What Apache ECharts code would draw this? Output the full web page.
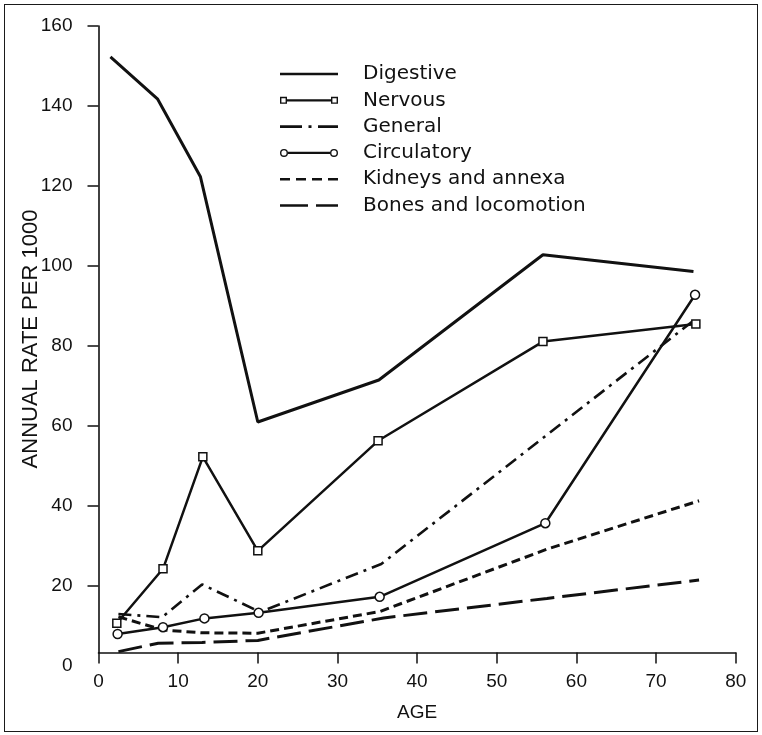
<!DOCTYPE html>
<html>
<head>
<meta charset="utf-8">
<script src="https://cdn.jsdelivr.net/npm/echarts@6/dist/echarts.min.js"></script>
<style>
html,body{margin:0;padding:0;background:#fff;}
#wrap{position:relative;width:762px;height:735px;}
#chart{position:absolute;left:0;top:0;width:762px;height:735px;}
#frame{position:absolute;left:4px;top:4px;width:754px;height:728px;box-sizing:border-box;border:1.5px solid #1a1a1a;pointer-events:none;}
</style>
</head>
<body>
<div id="wrap"><div id="chart"></div><div id="frame"></div></div>
<script>
// ---- data ----
const seriesNames = ['Digestive', 'Nervous', 'General', 'Circulatory', 'Kidneys and annexa', 'Bones and locomotion'];
const xTicks = [0, 10, 20, 30, 40, 50, 60, 70, 80];
const yTicks = [0, 20, 40, 60, 80, 100, 120, 140, 160];

const digestiveAge  = [1.5, 7.4, 12.8, 20.0, 35.2, 55.8, 74.7];
const digestiveRate = [152.3, 141.8, 122.3, 61.0, 71.5, 102.8, 98.6];

const nervousAge  = [2.3, 8.1, 13.1, 20.0, 35.1, 55.8, 75.0];
const nervousRate = [10.7, 24.3, 52.3, 28.8, 56.3, 81.1, 85.5];

const generalAge  = [2.5, 8.0, 13.0, 20.3, 35.5, 56.0, 74.8];
const generalRate = [13.0, 12.2, 20.4, 13.5, 25.5, 57.3, 86.5];

const circulatoryAge  = [2.4, 8.1, 13.3, 20.1, 35.3, 56.1, 74.9];
const circulatoryRate = [8.0, 9.7, 11.9, 13.3, 17.3, 35.7, 92.8];

const kidneysAge  = [2.5, 8.1, 13.0, 20.0, 35.3, 56.3, 75.4];
const kidneysRate = [12.3, 9.0, 8.3, 8.2, 13.6, 29.2, 41.3];

const bonesAge  = [2.5, 7.5, 13.0, 20.0, 35.8, 56.3, 75.4];
const bonesRate = [3.6, 5.7, 5.9, 6.4, 12.0, 16.9, 21.5];

// ---- helpers ----
function pts(xs, ys) { return xs.map((x, i) => [x, ys[i]]); }
const INK = '#111';
const FONT = 'Liberation Sans';

// legend key paths (78 x 10 box; the drawn key occupies 0..58)
const ANCHOR = 'M0 0 M78 10 ';
function bar(x0, x1, h) { h = h || 1.3; return 'M' + x0 + ' ' + (5 - h) + ' L' + x1 + ' ' + (5 - h) + ' L' + x1 + ' ' + (5 + h) + ' L' + x0 + ' ' + (5 + h) + ' Z '; }
function sq(x0) { const s = 7, t = 1.4; return 'M' + x0 + ' 1.5 L' + (x0 + s) + ' 1.5 L' + (x0 + s) + ' 8.5 L' + x0 + ' 8.5 Z ' +
  'M' + (x0 + t) + ' ' + (1.5 + t) + ' L' + (x0 + t) + ' ' + (8.5 - t) + ' L' + (x0 + s - t) + ' ' + (8.5 - t) + ' L' + (x0 + s - t) + ' ' + (1.5 + t) + ' Z '; }
function ring(cx) { const r = 4, ri = 2.6; return 'M' + (cx - r) + ' 5 A' + r + ' ' + r + ' 0 1 1 ' + (cx + r) + ' 5 A' + r + ' ' + r + ' 0 1 1 ' + (cx - r) + ' 5 Z ' +
  'M' + (cx - ri) + ' 5 A' + ri + ' ' + ri + ' 0 1 0 ' + (cx + ri) + ' 5 A' + ri + ' ' + ri + ' 0 1 0 ' + (cx - ri) + ' 5 Z '; }
const icons = {
  'Digestive': ANCHOR + bar(0, 58),
  'Nervous': ANCHOR + sq(0) + bar(7, 51, 1.1) + sq(51),
  'General': ANCHOR + bar(0, 22) + bar(28.5, 31.5) + bar(38, 58),
  'Circulatory': ANCHOR + ring(4) + bar(8, 50, 1.1) + ring(54),
  'Kidneys and annexa': ANCHOR + bar(0, 10) + bar(16, 26) + bar(32, 42) + bar(48, 58),
  'Bones and locomotion': ANCHOR + bar(0, 28) + bar(36, 58)
};

const chart = echarts.init(document.getElementById('chart'), null, { renderer: 'canvas' });
const option = {
  animation: false,
  backgroundColor: 'transparent',
  textStyle: { fontFamily: FONT, color: INK },
  grid: [
    { left: 98.5, right: 26.3, top: 26, bottom: 69 },
    { left: 98.5, right: 26.3, top: 26, bottom: 82.5 }
  ],
  legend: {
    orient: 'vertical',
    left: 280,
    top: 64,
    padding: 0,
    itemWidth: 78,
    itemHeight: 10,
    itemGap: 6.3,
    selectedMode: false,
    itemStyle: { color: INK, borderColor: INK, borderWidth: 0 },
    textStyle: { fontFamily: 'DejaVu Sans', fontSize: 20, color: INK },
    data: seriesNames.map(n => ({ name: n, icon: 'path://' + icons[n] }))
  },
  xAxis: [
    { gridIndex: 0, type: 'value', min: xTicks[0], max: xTicks[xTicks.length - 1], interval: 10, show: false },
    {
      gridIndex: 1, type: 'value', min: xTicks[0], max: xTicks[xTicks.length - 1], interval: 10,
      name: 'AGE', nameLocation: 'middle', nameGap: 51, nameMoveOverlap: false,
      nameTextStyle: { fontFamily: FONT, fontSize: 19, color: INK },
      axisLine: { show: true, onZero: false, lineStyle: { color: INK, width: 1.6 } },
      axisTick: { show: true, inside: false, length: 11, lineStyle: { color: INK, width: 1.5 } },
      axisLabel: { fontFamily: FONT, fontSize: 19, color: INK, margin: 20 },
      splitLine: { show: false }
    }
  ],
  yAxis: [
    {
      gridIndex: 0, type: 'value', min: yTicks[0], max: yTicks[yTicks.length - 1], interval: 20,
      name: 'ANNUAL RATE PER 1000', nameLocation: 'middle', nameRotate: 90, nameGap: 57, nameMoveOverlap: false,
      nameTextStyle: { fontFamily: FONT, fontSize: 22, color: INK, padding: [0, 0, 0, 14] },
      axisLine: { show: false },
      axisTick: { show: true, length: 11, customValues: yTicks.slice(1), lineStyle: { color: INK, width: 1.5 } },
      axisLabel: { fontFamily: FONT, fontSize: 19, color: INK, margin: 26 },
      splitLine: { show: false }
    },
    {
      gridIndex: 1, type: 'value', min: 0, max: 1,
      axisLine: { show: true, onZero: false, lineStyle: { color: INK, width: 1.6 } },
      axisTick: { show: false }, axisLabel: { show: false }, splitLine: { show: false }
    }
  ],
  series: [
    { name: 'Digestive', type: 'line', xAxisIndex: 0, yAxisIndex: 0, data: pts(digestiveAge, digestiveRate),
      symbol: 'none', lineStyle: { color: INK, width: 3 }, itemStyle: { color: INK } },
    { name: 'General', type: 'line', xAxisIndex: 0, yAxisIndex: 0, data: pts(generalAge, generalRate),
      symbol: 'none', lineStyle: { color: INK, width: 2.6, type: [13, 6, 3, 6] }, itemStyle: { color: INK } },
    { name: 'Kidneys and annexa', type: 'line', xAxisIndex: 0, yAxisIndex: 0, data: pts(kidneysAge, kidneysRate),
      symbol: 'none', lineStyle: { color: INK, width: 3, type: [9, 5] }, itemStyle: { color: INK } },
    { name: 'Bones and locomotion', type: 'line', xAxisIndex: 0, yAxisIndex: 0, data: pts(bonesAge, bonesRate),
      symbol: 'none', lineStyle: { color: INK, width: 3, type: [24, 8] }, itemStyle: { color: INK } },
    { name: 'Nervous', type: 'line', xAxisIndex: 0, yAxisIndex: 0, data: pts(nervousAge, nervousRate),
      symbol: 'rect', symbolSize: 8, showAllSymbol: true,
      lineStyle: { color: INK, width: 2.5 }, itemStyle: { color: '#fff', borderColor: INK, borderWidth: 1.5 } },
    { name: 'Circulatory', type: 'line', xAxisIndex: 0, yAxisIndex: 0, data: pts(circulatoryAge, circulatoryRate),
      symbol: 'circle', symbolSize: 9, showAllSymbol: true,
      lineStyle: { color: INK, width: 2.5 }, itemStyle: { color: '#fff', borderColor: INK, borderWidth: 1.5 } }
  ]
};
chart.setOption(option);
</script>
</body>
</html>
